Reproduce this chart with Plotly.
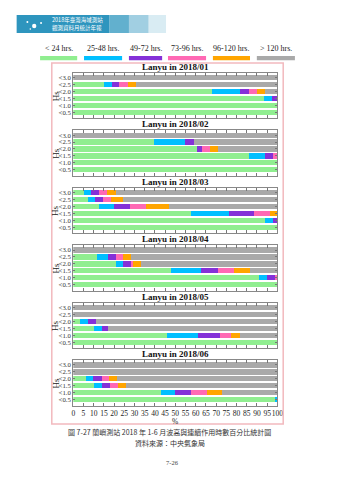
import plotly.graph_objects as go

W, H = 339, 480

categories = ["< 24 hrs.", "25-48 hrs.", "49-72 hrs.", "73-96 hrs.", "96-120 hrs.", "> 120 hrs."]
colors = ["#90EE90", "#00BFFF", "#8431D8", "#FF69B4", "#FFA500", "#A9A9A9"]
hs_labels = ["<0.5", "<1.0", "<1.5", "<2.0", "<2.5", "<3.0"]
months = ["2018/01", "2018/02", "2018/03", "2018/04", "2018/05", "2018/06"]
x_ticks = list(range(0, 101, 5))

# rows: <0.5 ... <3.0 ; columns: categories (percent)
jan = [[100, 0, 0, 0, 0, 0],
       [100, 0, 0, 0, 0, 0],
       [93.5, 4.0, 2.5, 0, 0, 0],
       [67.8, 13.7, 4.5, 3.8, 4.2, 6.0],
       [15.0, 3.8, 3.8, 4.0, 4.0, 69.4],
       [0, 0, 0, 0, 0, 100]]
feb = [[100, 0, 0, 0, 0, 0],
       [100, 0, 0, 0, 0, 0],
       [86.3, 7.6, 3.9, 2.2, 0, 0],
       [60.4, 0, 2.8, 3.7, 4.0, 29.1],
       [39.6, 15.2, 4.4, 0, 0, 40.8],
       [0, 0, 0, 0, 0, 100]]
mar = [[100, 0, 0, 0, 0, 0],
       [94.1, 3.7, 2.2, 0, 0, 0],
       [57.8, 18.5, 12.1, 7.8, 3.8, 0],
       [12.4, 7.7, 7.8, 7.6, 11.3, 53.2],
       [7.0, 3.8, 3.7, 4.0, 5.7, 75.8],
       [5.1, 3.7, 3.9, 3.9, 4.1, 79.3]]
apr = [[100, 0, 0, 0, 0, 0],
       [90.9, 3.8, 4.0, 1.3, 0, 0],
       [48.1, 14.6, 8.2, 7.8, 7.9, 13.4],
       [20.7, 3.8, 4.0, 0.8, 3.8, 66.9],
       [11.8, 5.1, 3.8, 3.8, 3.8, 71.7],
       [0, 0, 0, 0, 0, 100]]
may = [[100, 0, 0, 0, 0, 0],
       [46.0, 15.3, 10.4, 5.5, 4.3, 18.5],
       [10.2, 4.1, 2.7, 0, 0, 83.0],
       [3.5, 3.8, 3.8, 0, 0, 88.9],
       [0, 0, 0, 0, 0, 100],
       [0, 0, 0, 0, 0, 100]]
jun = [[98.9, 1.1, 0, 0, 0, 0],
       [43.2, 6.5, 7.9, 7.8, 7.7, 26.9],
       [10.2, 4.0, 4.0, 3.8, 3.8, 74.2],
       [6.1, 3.8, 4.0, 3.8, 3.8, 78.5],
       [0, 0, 0, 0, 0, 100],
       [0, 0, 0, 0, 0, 100]]
month_data = [jan, feb, mar, apr, may, jun]

SERIF = "Liberation Serif, Times New Roman, serif"
CJK = "Noto Sans CJK TC, sans-serif"


def px_x(x):
    return x / W


def px_y(y):
    return 1 - y / H


def note(x, y, text, font, **kw):
    d = dict(x=px_x(x), y=px_y(y), xref="paper", yref="paper", text=text,
             showarrow=False, xanchor="center", yanchor="middle", font=font)
    d.update(kw)
    return d


fig = go.Figure()
layout = dict(
    width=W, height=H, margin=dict(l=0, r=0, t=0, b=0),
    paper_bgcolor="white", plot_bgcolor="white",
    barmode="stack", bargap=0.25, showlegend=False,
    font=dict(family=SERIF, size=8, color="#222"),
)

x0, x1 = 73, 282
shapes, annotations = [], []

for i, (m, data) in enumerate(zip(months, month_data)):
    idx = "" if i == 0 else str(i + 1)
    top = 72.7 + 57.46 * i
    bot = top + 45.6
    for c, (cat, col) in enumerate(zip(categories, colors)):
        fig.add_trace(go.Bar(
            y=hs_labels, x=[row[c] for row in data], orientation="h",
            name=cat, marker=dict(color=col, line=dict(width=0)),
            xaxis="x" + idx, yaxis="y" + idx, hoverinfo="x+y+name",
        ))
    last = i == len(months) - 1
    layout["xaxis" + idx] = dict(
        domain=[px_x(x0), px_x(x1)], anchor="y" + idx, range=[0, 100],
        tickmode="array", tickvals=x_ticks, ticktext=[str(t) for t in x_ticks],
        tickangle=0, ticks="inside", ticklen=3, tickcolor="#777",
        showline=True, linecolor="#888", linewidth=1, mirror="ticks",
        showgrid=False, zeroline=False, showticklabels=last,
        tickfont=dict(family=SERIF, size=7.5, color="#222"),
    )
    layout["yaxis" + idx] = dict(
        domain=[px_y(bot), px_y(top)], anchor="x" + idx, range=[-0.87, 5.72],
        type="category", categoryorder="array", categoryarray=hs_labels,
        tickmode="array", tickvals=hs_labels, ticktext=hs_labels,
        ticks="inside", ticklen=2, tickcolor="#777",
        showline=True, linecolor="#888", linewidth=1, mirror="ticks",
        showgrid=False, zeroline=False,
        tickfont=dict(family=SERIF, size=6.8, color="#333"),
    )
    annotations.append(note((x0 + x1) / 2, top - 6, "<b>Lanyu in %s</b>" % m,
                            dict(family=SERIF, size=9, color="#111")))
    annotations.append(note(55, (top + bot) / 2, "Hs",
                            dict(family=SERIF, size=9, color="#222"), textangle=-90))

# x-axis title
annotations.append(note(177.5, 421.5, "%", dict(family=SERIF, size=7.5, color="#222")))

# legend (manual, text above swatches)
leg_x = [(39, 77), (84, 123), (130, 164), (170, 209), (216, 254), (261, 300)]
for (a, b), cat, col in zip(leg_x, categories, colors):
    shapes.append(dict(type="rect", xref="paper", yref="paper",
                       x0=px_x(a), x1=px_x(b), y0=px_y(60.2), y1=px_y(56),
                       fillcolor=col, line=dict(width=0)))
    annotations.append(note((a + b) / 2, 48.5, cat, dict(family=SERIF, size=8, color="#222")))

# pink outer frame
shapes.append(dict(type="rect", xref="paper", yref="paper",
                   x0=px_x(51), x1=px_x(288), y0=px_y(424), y1=px_y(63),
                   line=dict(color="#F2B9BE", width=1.5), fillcolor="rgba(0,0,0,0)"))

# header banner (fading blue)
banner_steps = [(15, 110, 1.0), (110, 130, 0.75), (130, 150, 0.45), (150, 168, 0.18)]
for a, b, op in banner_steps:
    shapes.append(dict(type="rect", xref="paper", yref="paper",
                       x0=px_x(a), x1=px_x(b), y0=px_y(33), y1=px_y(15),
                       fillcolor="#2E95BE", opacity=op, line=dict(width=0)))
for cx, cy, r in [(26, 22, 1.0), (33, 26, 2.2), (40, 23, 1.0), (29, 29, 0.8)]:
    shapes.append(dict(type="circle", xref="paper", yref="paper",
                       x0=px_x(cx - r), x1=px_x(cx + r), y0=px_y(cy + r), y1=px_y(cy - r),
                       fillcolor="white", line=dict(width=0)))
annotations.append(note(49, 20, "2018年臺灣海域測站",
                        dict(family=CJK, size=5.5, color="white"), xanchor="left"))
annotations.append(note(49, 28, "觀測資料月統計年報",
                        dict(family=CJK, size=5.5, color="white"), xanchor="left"))

# caption
annotations.append(note(172, 432, "圖 7-27 蘭嶼測站 2018 年 1-6 月波高與連續作用時數百分比統計圖",
                        dict(family=CJK, size=7, color="#333")))
annotations.append(note(172, 443, "資料來源：中央氣象局", dict(family=CJK, size=7, color="#333")))
annotations.append(note(175, 462, "7-26", dict(family=SERIF, size=6.5, color="#444")))

layout["shapes"] = shapes
layout["annotations"] = annotations
fig.update_layout(**layout)
fig.write_html("out.html")
